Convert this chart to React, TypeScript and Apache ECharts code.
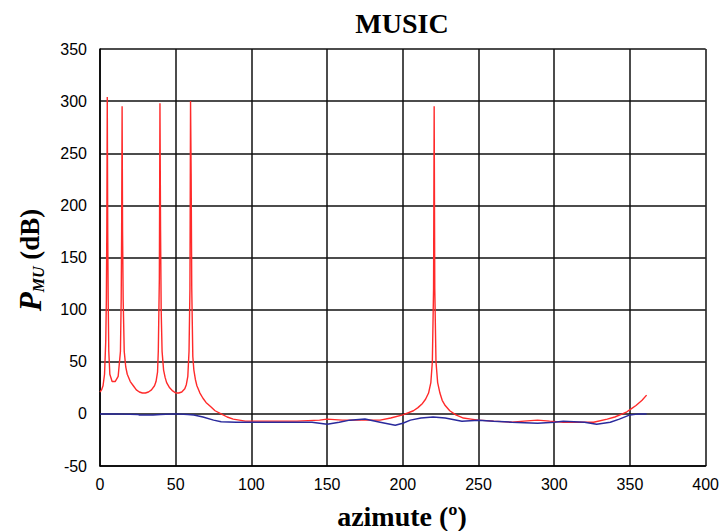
import React, { useEffect, useRef } from "react";
import * as echarts from "echarts";

const redX = [0, 1, 2, 3, 3.8, 4.2, 4.5, 4.8, 5.1, 5.4, 5.8, 6.5, 8, 10, 12, 13.5, 14.0, 14.3, 14.6, 14.9, 15.3, 16, 17, 18, 20, 22, 24, 26, 28, 30, 32, 34, 36, 37, 38, 38.5, 39.2, 39.6, 40.0, 40.4, 41, 42, 43, 44, 46, 48, 50, 52, 54, 56, 57, 58, 58.8, 59.4, 59.8, 60.2, 60.6, 61.3, 62, 63, 64, 66, 68, 70, 73, 76, 80, 84, 88, 92, 96, 110, 130, 145, 150, 160, 175, 185, 192, 200, 207, 210, 213, 215, 217, 218.5, 219.5, 220.3, 220.7, 221.1, 221.9, 223, 224.5, 226, 228, 231, 235, 240, 245, 250, 260, 272, 280, 289, 297, 306, 316, 326, 335, 340, 345, 348, 351, 354, 358, 361];
const redY = [21, 23, 27, 38, 70, 110, 176, 304, 176, 110, 60, 38, 31, 31, 36, 60, 110, 176, 295, 176, 110, 60, 45, 38, 31, 27, 23, 21, 20, 20, 21, 23, 27, 31, 40, 60, 130, 298, 176, 100, 60, 42, 35, 30, 25, 22, 20, 20, 21, 24, 28, 36, 60, 120, 300, 230, 120, 55, 42, 33, 27, 20, 15, 11, 7, 3, 0, -3, -5, -6, -7, -7, -7, -6, -5, -6, -6, -6, -4, -1, 3, 6, 10, 14, 20, 30, 50, 120, 295, 120, 50, 30, 20, 13, 8, 3, -1, -4, -5, -6, -7, -8, -7, -6, -7, -8, -8, -8, -5, -3, 0, 2, 5, 8, 13, 18];

const blueX = [0, 10, 25, 26, 35, 40, 50, 58, 62, 68, 75, 80, 90, 100, 120, 140, 150, 158, 165, 175, 185, 195, 200, 205, 212, 220, 228, 239, 250, 260, 272, 289, 300, 306, 320, 328, 337, 343, 350, 356, 361];
const blueY = [0, 0, -0.5, -1, -1, -0.5, 0, -0.5, -1, -3, -6, -7.5, -8, -8, -8, -8, -10, -8, -6, -5, -8, -11, -9, -6, -4, -3, -4, -7, -6, -7, -8, -9, -8, -7, -8, -10, -8, -5, -1, 0, 0];

const titleText = "MUSIC";
const xAxisTitle = "azimute (º)";

export default function App() {
  const ref = useRef<HTMLDivElement>(null);
  useEffect(() => {
    if (!ref.current) return;
    const chart = echarts.init(ref.current, null, { renderer: "svg" });
    const tickFont = "'Liberation Sans Narrow', 'Arial Narrow', 'Liberation Sans', sans-serif";
    chart.setOption({
      animation: false,
      backgroundColor: "#fff",
      grid: { left: 100, right: 9, top: 49, bottom: 65 },
      xAxis: {
        type: "value",
        min: 0,
        max: 400,
        interval: 50,
        axisLine: { show: true, onZero: false, lineStyle: { color: "#000", width: 1.5 } },
        axisTick: { show: false },
        splitLine: { show: true, lineStyle: { color: "#111", width: 1.5 } },
        axisLabel: { color: "#000", fontSize: 16, fontFamily: tickFont, margin: 10 },
      },
      yAxis: {
        type: "value",
        min: -50,
        max: 350,
        interval: 50,
        axisLine: { show: true, onZero: false, lineStyle: { color: "#000", width: 1.5 } },
        axisTick: { show: false },
        splitLine: { show: true, lineStyle: { color: "#111", width: 1.5 } },
        axisLabel: { color: "#000", fontSize: 16, fontFamily: tickFont, margin: 13 },
      },
      series: [
        {
          type: "line",
          data: redX.map((x, i) => [x, redY[i]]),
          showSymbol: false,
          lineStyle: { color: "#ff2a2a", width: 1.4 },
          itemStyle: { color: "#ff2a2a" },
          z: 3,
        },
        {
          type: "line",
          data: blueX.map((x, i) => [x, blueY[i]]),
          showSymbol: false,
          lineStyle: { color: "#2a2a9c", width: 1.5 },
          itemStyle: { color: "#2a2a9c" },
          z: 4,
        },
      ],
      graphic: [
        {
          type: "text",
          x: 402,
          y: 23,
          style: {
            text: titleText,
            font: "bold 28px 'Liberation Serif', serif",
            fill: "#000",
            align: "center",
            verticalAlign: "middle",
          },
        },
        {
          type: "text",
          x: 402,
          y: 516,
          style: {
            text: xAxisTitle,
            font: "bold 28px 'Liberation Serif', serif",
            fill: "#000",
            align: "center",
            verticalAlign: "middle",
          },
        },
        {
          type: "text",
          x: 30,
          y: 260,
          rotation: Math.PI / 2,
          style: {
            text: "{p|P}{s|MU}{n| (dB)}",
            align: "center",
            verticalAlign: "middle",
            rich: {
              p: { font: "italic bold 31px 'Liberation Serif', serif", fill: "#000", lineHeight: 36, verticalAlign: "middle" },
              s: { font: "italic bold 16px 'Liberation Serif', serif", fill: "#000", lineHeight: 36, verticalAlign: "bottom", padding: [0, 0, 2, 0] },
              n: { font: "bold 27px 'Liberation Serif', serif", fill: "#000", lineHeight: 36, verticalAlign: "middle" },
            },
          },
        },
      ],
    });
    return () => chart.dispose();
  }, []);
  return <div ref={ref} style={{ width: 722, height: 531, position: "absolute", left: 0, top: 0 }} />;
}
